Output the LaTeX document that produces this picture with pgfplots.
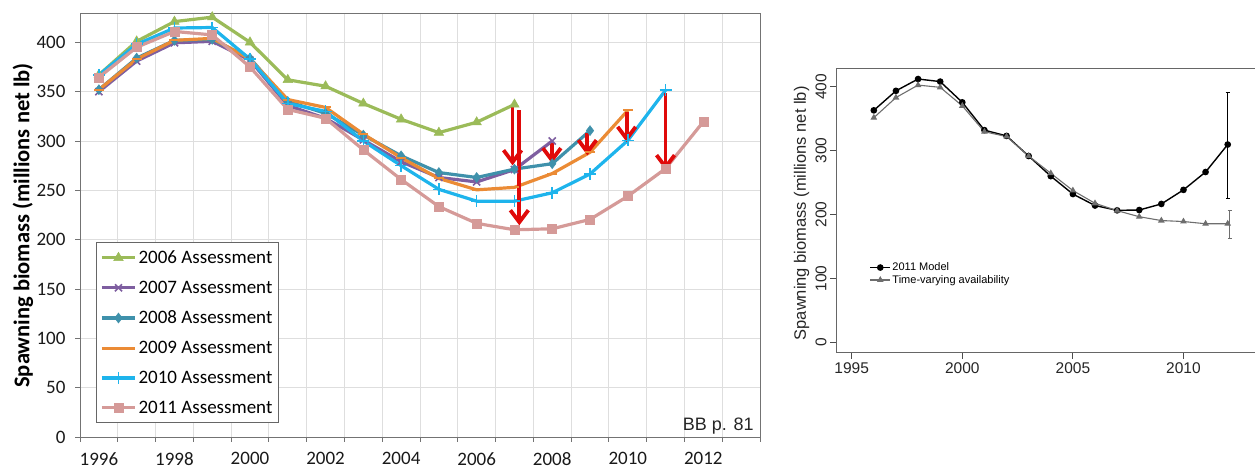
\documentclass[border=0pt]{standalone}
\usepackage{fontspec}
\setmainfont{Carlito}
\newfontfamily\arial{Liberation Sans}
\usepackage{pgfplots}
\pgfplotsset{compat=1.18}
\usetikzlibrary{arrows.meta}
\definecolor{cgreen}{HTML}{9BBB59}
\definecolor{cpurple}{HTML}{7E5EA0}
\definecolor{cteal}{HTML}{3F91AB}
\definecolor{corange}{HTML}{EB8B35}
\definecolor{cblue}{HTML}{1EB4EC}
\definecolor{cpink}{HTML}{D59A98}
\definecolor{cred}{HTML}{E00A0A}
\definecolor{cgray}{HTML}{6E6E6E}
\begin{document}
\begin{tikzpicture}
\useasboundingbox (0,0) rectangle (1255bp,470bp);
% ---------------- left chart ----------------
\begin{axis}[
  at={(80bp,33bp)}, anchor=south west, scale only axis,
  width=680bp, height=423bp,
  xmin=1995.5, xmax=2013.5, ymin=0, ymax=428.7,
  xtick={1996,1998,...,2012},
  minor xtick={1995.5,1996.5,...,2013.5},
  ytick={0,50,...,400},
  xminorgrids, ymajorgrids,
  grid style={draw=black!13, line width=0.8bp},
  minor grid style={draw=black!13, line width=0.8bp},
  major x tick style={draw=none},
  tick align=outside, xtick pos=bottom, ytick pos=left,
  major tick length=5bp, minor tick length=5bp,
  tick style={black!55, line width=0.8bp},
  axis line style={black!55, line width=1bp},
  /pgf/number format/assume math mode=true,
  /pgf/number format/1000 sep={},
  ticklabel style={font=\fontsize{19bp}{22bp}\selectfont, text=black!90},
  xticklabel style={yshift=-7bp},
  yticklabel style={xshift=-6bp},
  ylabel={\bfseries Spawning biomass (millions net lb)},
  ylabel style={font=\fontsize{22.5bp}{25bp}\selectfont, at={(axis description cs:-0.0838,0.5)}, anchor=center},
  legend style={at={(rel axis cs:0.0235,0.4605)}, anchor=north west, draw=black!60, line width=0.8bp,
    fill=white, font=\fontsize{19bp}{22bp}\selectfont, row sep=12bp, inner xsep=4bp, inner ysep=6bp,
    nodes={inner sep=2bp}},
  legend cell align=left,
  legend image code/.code={\draw[mark repeat=2, mark phase=2] plot coordinates {(0bp,0bp) (16.5bp,0bp) (33bp,0bp)};},
  every axis plot/.append style={line width=3.2bp},
]
\addplot[cgreen, mark=triangle*, mark size=5.5bp, mark options={line width=0.5bp}] coordinates {
(1996,367) (1997,401) (1998,421) (1999,425.5) (2000,400) (2001,362) (2002,355.5) (2003,338) (2004,322) (2005,308.5) (2006,319) (2007,337)};
\addlegendentry{2006 Assessment}
\addplot[cpurple, mark=x, mark size=5bp, mark options={line width=1.6bp}] coordinates {
(1996,350) (1997,381) (1998,399.5) (1999,401) (2000,382) (2001,336) (2002,323) (2003,301) (2004,279) (2005,263) (2006,258.5) (2007,271) (2008,300)};
\addlegendentry{2007 Assessment}
\addplot[cteal, mark=diamond*, mark size=5bp, mark options={line width=0.5bp}] coordinates {
(1996,352) (1997,384) (1998,402) (1999,403) (2000,384) (2001,340) (2002,328) (2003,306) (2004,285) (2005,268) (2006,263) (2007,271.5) (2008,277) (2009,310.5)};
\addlegendentry{2008 Assessment}
\addplot[corange, mark=-, mark size=5bp, mark options={line width=2bp}] coordinates {
(1996,352) (1997,383) (1998,402) (1999,404) (2000,383) (2001,342) (2002,334) (2003,307) (2004,283) (2005,262) (2006,250.5) (2007,253) (2008,267) (2009,288.5) (2010,331)};
\addlegendentry{2009 Assessment}
\addplot[cblue, mark=+, mark size=6bp, mark options={line width=1.6bp}] coordinates {
(1996,367) (1997,398) (1998,414.5) (1999,415) (2000,383) (2001,338) (2002,330) (2003,300) (2004,275) (2005,251) (2006,239) (2007,239) (2008,247.5) (2009,266.5) (2010,300.5) (2011,351.5)};
\addlegendentry{2010 Assessment}
\addplot[cpink, mark=square*, mark size=4.5bp, mark options={line width=0.5bp}] coordinates {
(1996,364.5) (1997,395) (1998,411) (1999,407.5) (2000,375) (2001,332) (2002,323) (2003,291) (2004,261) (2005,233.5) (2006,216.5) (2007,210) (2008,211) (2009,220.5) (2010,244) (2011,272) (2012,319.5)};
\addlegendentry{2011 Assessment}
% red arrows
\pgfplotsset{every axis plot/.append style={forget plot}}
\addplot[cred, line width=3.8bp, -{Straight Barb[length=12bp, width=18bp, line width=3.8bp]}] coordinates {(2006.95,334.4) (2006.95,275.3)};
\addplot[cred, line width=3.8bp, -{Straight Barb[length=12bp, width=18bp, line width=3.8bp]}] coordinates {(2007.13,331.1) (2007.13,214.5)};
\addplot[cred, line width=3.8bp, -{Straight Barb[length=12bp, width=18bp, line width=3.8bp]}] coordinates {(2007.99,297.6) (2007.99,277.4)};
\addplot[cred, line width=3.8bp, -{Straight Barb[length=12bp, width=18bp, line width=3.8bp]}] coordinates {(2008.93,307.8) (2008.93,285.5)};
\addplot[cred, line width=3.8bp, -{Straight Barb[length=12bp, width=18bp, line width=3.8bp]}] coordinates {(2009.97,329.4) (2009.97,299)};
\addplot[cred, line width=3.8bp, -{Straight Barb[length=12bp, width=18bp, line width=3.8bp]}] coordinates {(2011.0,348.3) (2011.0,270.3)};
\node[anchor=base east, inner sep=0pt, font=\arial\fontsize{18bp}{20bp}\selectfont, text=black!85] at (rel axis cs:0.991,0.0165) {BB p. 81};
\end{axis}
% ---------------- right chart ----------------
\begin{axis}[
  at={(836bp,117.3bp)}, anchor=south west, scale only axis,
  width=422bp, height=284.4bp,
  xmin=1994.29, xmax=2013.37, ymin=-16.3, ymax=428.8,
  xtick={1995,2000,2005,2010}, ytick={0,100,...,400},
  tick align=outside, xtick pos=bottom, ytick pos=left,
  major tick length=6bp,
  axis line style={black!60, line width=0.9bp},
  tick style={black!70, line width=0.8bp},
  /pgf/number format/assume math mode=true,
  /pgf/number format/1000 sep={},
  ticklabel style={font=\arial\fontsize{15.5bp}{17bp}\selectfont, text=black!85},
  yticklabel style={rotate=90, anchor=south},
  ylabel={Spawning biomass (millions net lb)},
  ylabel style={font=\arial\fontsize{16.5bp}{19bp}\selectfont, text=black!85, at={(axis description cs:-0.0813,0.49)}, anchor=center},
  legend style={at={(rel axis cs:0.072,0.329)}, anchor=north west, draw=none, fill=none,
    font=\arial\fontsize{11bp}{13bp}\selectfont, row sep=0bp, nodes={inner sep=1.5bp}},
  legend cell align=left,
  legend image code/.code={\draw[mark repeat=2, mark phase=2] plot coordinates {(0bp,0bp) (10bp,0bp) (20bp,0bp)};},
]
\addplot[black, line width=1.4bp, mark=*, mark size=2.6bp] coordinates {
(1996,363) (1997,393.5) (1998,412) (1999,408) (2000,375.5) (2001,332) (2002,323) (2003,291.5) (2004,260) (2005,232) (2006,214) (2007,206.5) (2008,207) (2009,216.5) (2010,238.5) (2011,266.5) (2012,309.5)};
\addlegendentry{2011 Model}
\addplot[cgray, line width=1.1bp, mark=triangle*, mark size=2.8bp] coordinates {
(1996,351.5) (1997,383) (1998,402.5) (1999,399) (2000,370) (2001,329.5) (2002,322) (2003,291.5) (2004,264.5) (2005,237.5) (2006,217.5) (2007,206) (2008,196.5) (2009,190.5) (2010,189) (2011,185.5) (2012,185.5)};
\addlegendentry{Time-varying availability}
\addplot[black, line width=1.1bp, {Bar[width=4bp]}-{Bar[width=4bp]}, forget plot] coordinates {(2012,223.7) (2012,392)};
\addplot[cgray, line width=1.1bp, {Bar[width=4bp]}-{Bar[width=4bp]}, forget plot] coordinates {(2012.09,161) (2012.09,207)};
\end{axis}
\end{tikzpicture}
\end{document}
